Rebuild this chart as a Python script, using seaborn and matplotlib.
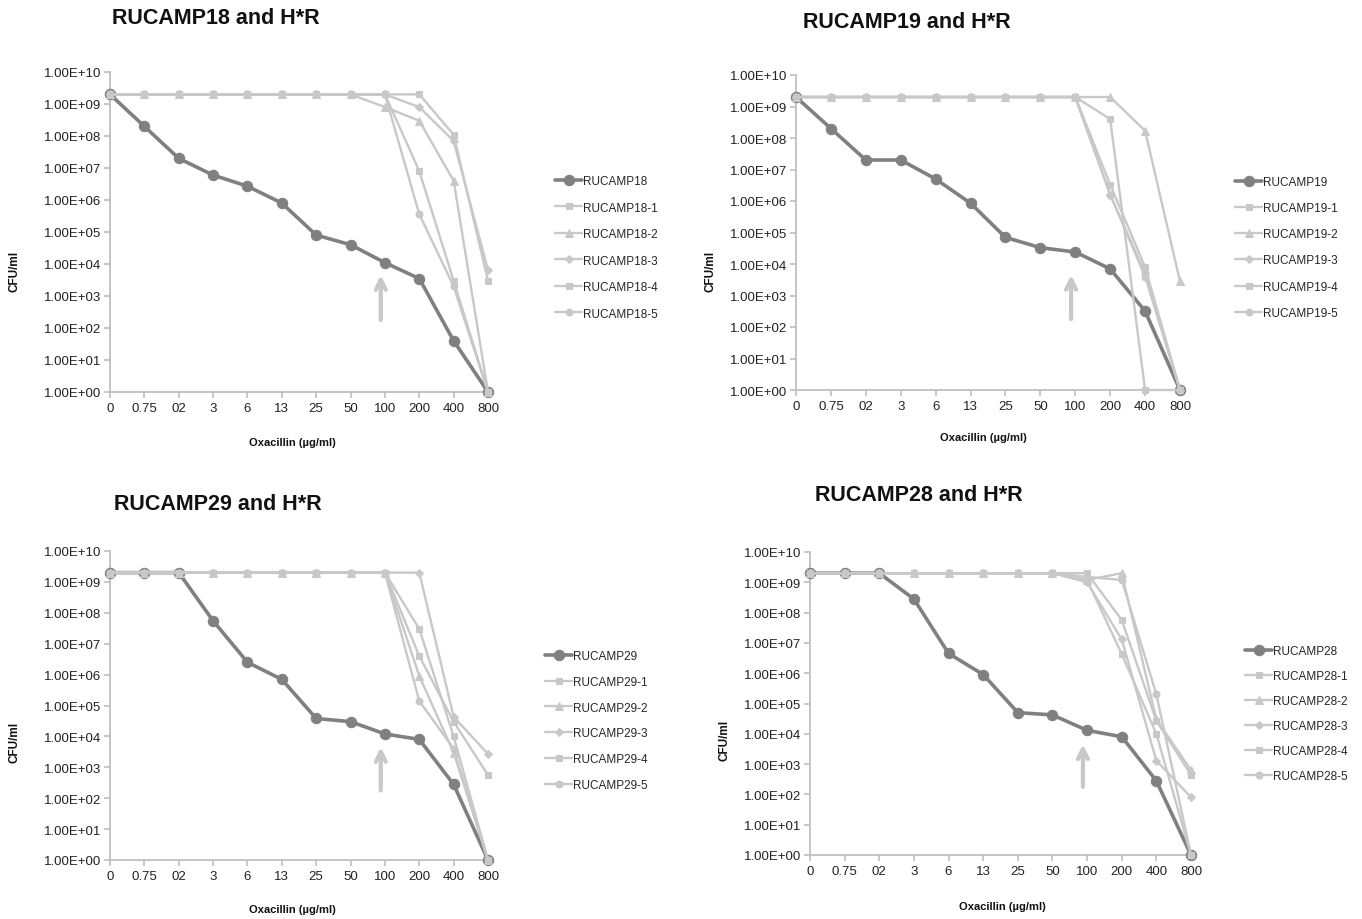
import matplotlib
matplotlib.use("Agg")
import matplotlib.pyplot as plt
import seaborn as sns
import numpy as np
import pandas as pd
from matplotlib.ticker import FuncFormatter, FixedLocator

# ---------------- data ----------------
x_labels = ["0", "0.75", "02", "3", "6", "13", "25", "50", "100", "200", "400", "800"]

rucamp18 = [2e9, 2e8, 2e7, 6e6, 2.7e6, 8e5, 8e4, 4e4, 1.1e4, 3.5e3, 40, 1]
rucamp18_1 = [2e9, 2e9, 2e9, 2e9, 2e9, 2e9, 2e9, 2e9, 2e9, 2e9, 1.1e8, 3e3]
rucamp18_2 = [2e9, 2e9, 2e9, 2e9, 2e9, 2e9, 2e9, 2e9, 8e8, 3e8, 4e6, 1]
rucamp18_3 = [2e9, 2e9, 2e9, 2e9, 2e9, 2e9, 2e9, 2e9, 2e9, 8e8, 7e7, 6.5e3]
rucamp18_4 = [2e9, 2e9, 2e9, 2e9, 2e9, 2e9, 2e9, 2e9, 2e9, 8e6, 3e3, 1]
rucamp18_5 = [2e9, 2e9, 2e9, 2e9, 2e9, 2e9, 2e9, 2e9, 2e9, 3.6e5, 2e3, 1]

rucamp19 = [2e9, 2e8, 2e7, 2e7, 5e6, 8.5e5, 7e4, 3.3e4, 2.4e4, 7e3, 3.2e2, 1]
rucamp19_1 = [2e9, 2e9, 2e9, 2e9, 2e9, 2e9, 2e9, 2e9, 2e9, 4e8, 1, 1]
rucamp19_2 = [2e9, 2e9, 2e9, 2e9, 2e9, 2e9, 2e9, 2e9, 2e9, 2e9, 1.7e8, 2.8e3]
rucamp19_3 = [2e9, 2e9, 2e9, 2e9, 2e9, 2e9, 2e9, 2e9, 2e9, 1.6e6, 5e3, 1]
rucamp19_4 = [2e9, 2e9, 2e9, 2e9, 2e9, 2e9, 2e9, 2e9, 2e9, 3.3e6, 8e3, 1]
rucamp19_5 = [2e9, 2e9, 2e9, 2e9, 2e9, 2e9, 2e9, 2e9, 2e9, 1.6e6, 4e3, 1]

rucamp29 = [2e9, 2e9, 2e9, 5.5e7, 2.5e6, 7e5, 3.8e4, 3e4, 1.2e4, 8e3, 2.8e2, 1]
rucamp29_1 = [2e9, 2e9, 2e9, 2e9, 2e9, 2e9, 2e9, 2e9, 2e9, 3e7, 1e4, 1]
rucamp29_2 = [2e9, 2e9, 2e9, 2e9, 2e9, 2e9, 2e9, 2e9, 2e9, 9e5, 3e3, 1]
rucamp29_3 = [2e9, 2e9, 2e9, 2e9, 2e9, 2e9, 2e9, 2e9, 2e9, 2e9, 4.3e4, 2.7e3]
rucamp29_4 = [2e9, 2e9, 2e9, 2e9, 2e9, 2e9, 2e9, 2e9, 2e9, 4e6, 3e4, 5.6e2]
rucamp29_5 = [2e9, 2e9, 2e9, 2e9, 2e9, 2e9, 2e9, 2e9, 2e9, 1.4e5, 4e3, 1]

rucamp28 = [2e9, 2e9, 2e9, 2.8e8, 4.5e6, 9e5, 5e4, 4.2e4, 1.3e4, 8e3, 2.8e2, 1]
rucamp28_1 = [2e9, 2e9, 2e9, 2e9, 2e9, 2e9, 2e9, 2e9, 2e9, 5.7e7, 2.7e4, 4.4e2]
rucamp28_2 = [2e9, 2e9, 2e9, 2e9, 2e9, 2e9, 2e9, 2e9, 1.2e9, 2e9, 3e4, 6.3e2]
rucamp28_3 = [2e9, 2e9, 2e9, 2e9, 2e9, 2e9, 2e9, 2e9, 1e9, 1.3e7, 1.3e3, 80]
rucamp28_4 = [2e9, 2e9, 2e9, 2e9, 2e9, 2e9, 2e9, 2e9, 1.2e9, 4.3e6, 1e4, 1]
rucamp28_5 = [2e9, 2e9, 2e9, 2e9, 2e9, 2e9, 2e9, 2e9, 1.5e9, 1.2e9, 2e5, 1]

# ---------------- style ----------------
sns.set_theme(style="white")
plt.rcParams["font.family"] = ["Liberation Sans", "DejaVu Sans"]

MAIN = "#808080"
LIGHT = "#c8c8c8"
AXC = "#bfbfbf"
variant_markers = ["s", "^", "D", "s", "o"]
variant_sizes = [5, 5.5, 4.5, 5, 5]

panels = [
    dict(name="RUCAMP18", main=rucamp18,
         variants=[rucamp18_1, rucamp18_2, rucamp18_3, rucamp18_4, rucamp18_5],
         ax=(110, 73, 488, 393), title=(112, 18), ylab=(15, 271), xlab=(292, 443),
         leg=(555, 176), ls=1.23),
    dict(name="RUCAMP19", main=rucamp19,
         variants=[rucamp19_1, rucamp19_2, rucamp19_3, rucamp19_4, rucamp19_5],
         ax=(796, 76, 1180, 391), title=(803, 22), ylab=(710, 271), xlab=(983, 438),
         leg=(1235, 177), ls=1.2),
    dict(name="RUCAMP29", main=rucamp29,
         variants=[rucamp29_1, rucamp29_2, rucamp29_3, rucamp29_4, rucamp29_5],
         ax=(110, 552, 488, 861), title=(114, 505), ylab=(15, 742), xlab=(292, 910),
         leg=(545, 651), ls=1.17),
    dict(name="RUCAMP28", main=rucamp28,
         variants=[rucamp28_1, rucamp28_2, rucamp28_3, rucamp28_4, rucamp28_5],
         ax=(810, 553, 1191, 856), title=(815, 496), ylab=(725, 740), xlab=(1002, 907),
         leg=(1245, 646), ls=1.1),
]

W, H = 1362, 920
fig = plt.figure(figsize=(W / 100, H / 100), dpi=100)
fig.patch.set_facecolor("white")

xs = np.arange(len(x_labels))
fmt = FuncFormatter(lambda v, p: f"{v:.2E}")

for p in panels:
    l, t, r, b = p["ax"]
    ax = fig.add_axes([l / W, 1 - b / H, (r - l) / W, (b - t) / H])
    ax.set_yscale("log")

    df = pd.DataFrame({"x": xs, "y": p["main"]})
    sns.lineplot(data=df, x="x", y="y", ax=ax, color=MAIN, linewidth=2.6,
                 marker="o", markersize=7.5, markeredgecolor=MAIN,
                 label=p["name"], estimator=None, clip_on=False, zorder=3)
    for i, v in enumerate(p["variants"]):
        dfv = pd.DataFrame({"x": xs, "y": v})
        sns.lineplot(data=dfv, x="x", y="y", ax=ax, color=LIGHT, linewidth=1.7,
                     marker=variant_markers[i], markersize=variant_sizes[i],
                     markeredgecolor=LIGHT, label=f"{p['name']}-{i + 1}",
                     estimator=None, clip_on=False, zorder=4)

    ax.set_xlim(0, 11)
    ax.set_ylim(1, 1e10)
    ax.yaxis.set_major_locator(FixedLocator([10.0 ** k for k in range(11)]))
    ax.yaxis.set_minor_locator(FixedLocator([]))
    ax.yaxis.set_major_formatter(fmt)
    ax.set_xticks(xs)
    ax.set_xticklabels(x_labels)
    ax.set_xlabel("")
    ax.set_ylabel("")
    for s in ["top", "right"]:
        ax.spines[s].set_visible(False)
    for s in ["left", "bottom"]:
        ax.spines[s].set_color(AXC)
        ax.spines[s].set_linewidth(1.3)
    ax.tick_params(axis="both", direction="out", length=4, width=1.2, color=AXC,
                   labelsize=9.5, labelcolor="#222222")
    ax.tick_params(axis="y", pad=2, left=True)
    ax.tick_params(axis="x", pad=3, bottom=True)
    ax.grid(False)
    ax.set_facecolor("white")

    # arrow marking 100 µg/ml
    ax.annotate("", xy=(7.88, 10 ** 3.65), xytext=(7.88, 10 ** 2.25),
                arrowprops=dict(arrowstyle="->", color=LIGHT, lw=3,
                                mutation_scale=18, shrinkA=0, shrinkB=0))

    handles, labels = ax.get_legend_handles_labels()
    ax.legend(handles, labels, loc="upper left", frameon=False,
              bbox_to_anchor=(p["leg"][0] / W, 1 - p["leg"][1] / H),
              bbox_transform=fig.transFigure, fontsize=8.5, labelspacing=p["ls"],
              handlelength=2.3, handletextpad=0.1, borderpad=0, borderaxespad=0)

    fig.text(p["title"][0] / W, 1 - p["title"][1] / H, f"{p['name']} and H*R",
             fontsize=15.5, fontweight="bold", ha="left", va="center", color="#111111")
    fig.text(p["ylab"][0] / W, 1 - p["ylab"][1] / H, "CFU/ml", rotation=90,
             fontsize=8.5, fontweight="bold", ha="center", va="center", color="#111111")
    fig.text(p["xlab"][0] / W, 1 - p["xlab"][1] / H, "Oxacillin (µg/ml)",
             fontsize=8, fontweight="bold", ha="center", va="center", color="#111111")

fig.savefig("out.png", dpi=100, facecolor="white")
